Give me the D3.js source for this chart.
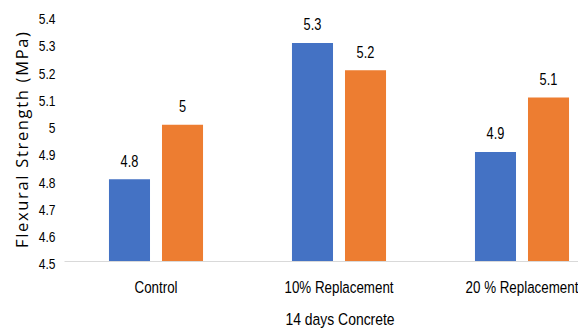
<!DOCTYPE html>
<html><head><meta charset="utf-8">
<script src="https://cdn.jsdelivr.net/npm/d3@7"></script>
<style>
html,body{margin:0;padding:0;background:#fff;}
svg{display:block;}
</style></head>
<body>
<svg id="chart" width="578" height="331"></svg>
<script>
const categories = ["Control", "10% Replacement", "20 % Replacement"];
const seriesNames = ["Series A", "Series B"];
const seriesA = [4.8, 5.3, 4.9];
const seriesB = [5.0, 5.2, 5.1];
const yTicks = [4.5, 4.6, 4.7, 4.8, 4.9, 5, 5.1, 5.2, 5.3, 5.4];
const colors = ["#4472C4", "#ED7D31"];
const xTitle = "14 days Concrete";
const yTitle = "Flexural Strength (MPa)";

const svg = d3.select("#chart");
const font = "'Liberation Sans',Arial,sans-serif";

const y = d3.scaleLinear().domain([4.5, 5.4]).range([261, 15.75]);
const x0 = d3.scaleBand().domain(categories).range([64.5, 613.5]).paddingInner(0.486).paddingOuter(0.243);
const x1 = d3.scaleBand().domain(seriesNames).range([0, x0.bandwidth()]).paddingInner(0.226);

const rows = categories.map((c, i) => ({cat: c, vals: [seriesA[i], seriesB[i]]}));

// bars
const g = svg.append("g");
rows.forEach(r => {
  r.vals.forEach((v, j) => {
    const bx = x0(r.cat) + x1(seriesNames[j]);
    g.append("rect")
      .attr("x", bx).attr("y", y(v))
      .attr("width", x1.bandwidth()).attr("height", y(4.5) - y(v))
      .attr("fill", colors[j]);
    g.append("text")
      .attr("transform", `translate(${bx + x1.bandwidth() / 2},${y(v) - 12.7}) scale(0.8,1)`)
      .attr("text-anchor", "middle")
      .attr("font-family", font).attr("font-size", 16).attr("fill", "#000")
      .text(d3.format("")(v));
  });
});

// x axis line
svg.append("line").attr("x1", 64.5).attr("x2", 578).attr("y1", y(4.5) + 0.5).attr("y2", y(4.5) + 0.5)
  .attr("stroke", "#D9D9D9").attr("stroke-width", 1);

// y tick labels
const yAxis = svg.append("g").attr("transform", "translate(55.5,0)")
  .call(d3.axisLeft(y).tickValues(yTicks).tickSize(0).tickPadding(0).tickFormat(d3.format("")));
yAxis.select(".domain").remove();
yAxis.selectAll("text").attr("font-family", font).attr("font-size", 14.5).attr("fill", "#000")
  .attr("x", 0).attr("dy", 7.8).attr("transform", "scale(0.83,1)");

// category labels
const xAxis = svg.append("g").attr("transform", "translate(0,261)")
  .call(d3.axisBottom(x0).tickSize(0).tickPadding(0));
xAxis.select(".domain").remove();
xAxis.selectAll("text").attr("font-family", font).attr("font-size", 16.5).attr("fill", "#000")
  .attr("y", 0).attr("dy", 32.5).attr("transform", "scale(0.81,1)");

// x title
svg.append("text").attr("transform", "translate(340,325) scale(0.845,1)").attr("text-anchor", "middle")
  .attr("font-family", font).attr("font-size", 16.5).attr("fill", "#000").text(xTitle);

// y title
svg.append("text").attr("transform", "translate(28,140) rotate(-90)")
  .attr("text-anchor", "middle")
  .attr("font-family", "'Open Sans',sans-serif").attr("font-size", 16.5).attr("fill", "#000")
  .attr("textLength", 216).attr("lengthAdjust", "spacing")
  .text(yTitle);
</script>
</body></html>
